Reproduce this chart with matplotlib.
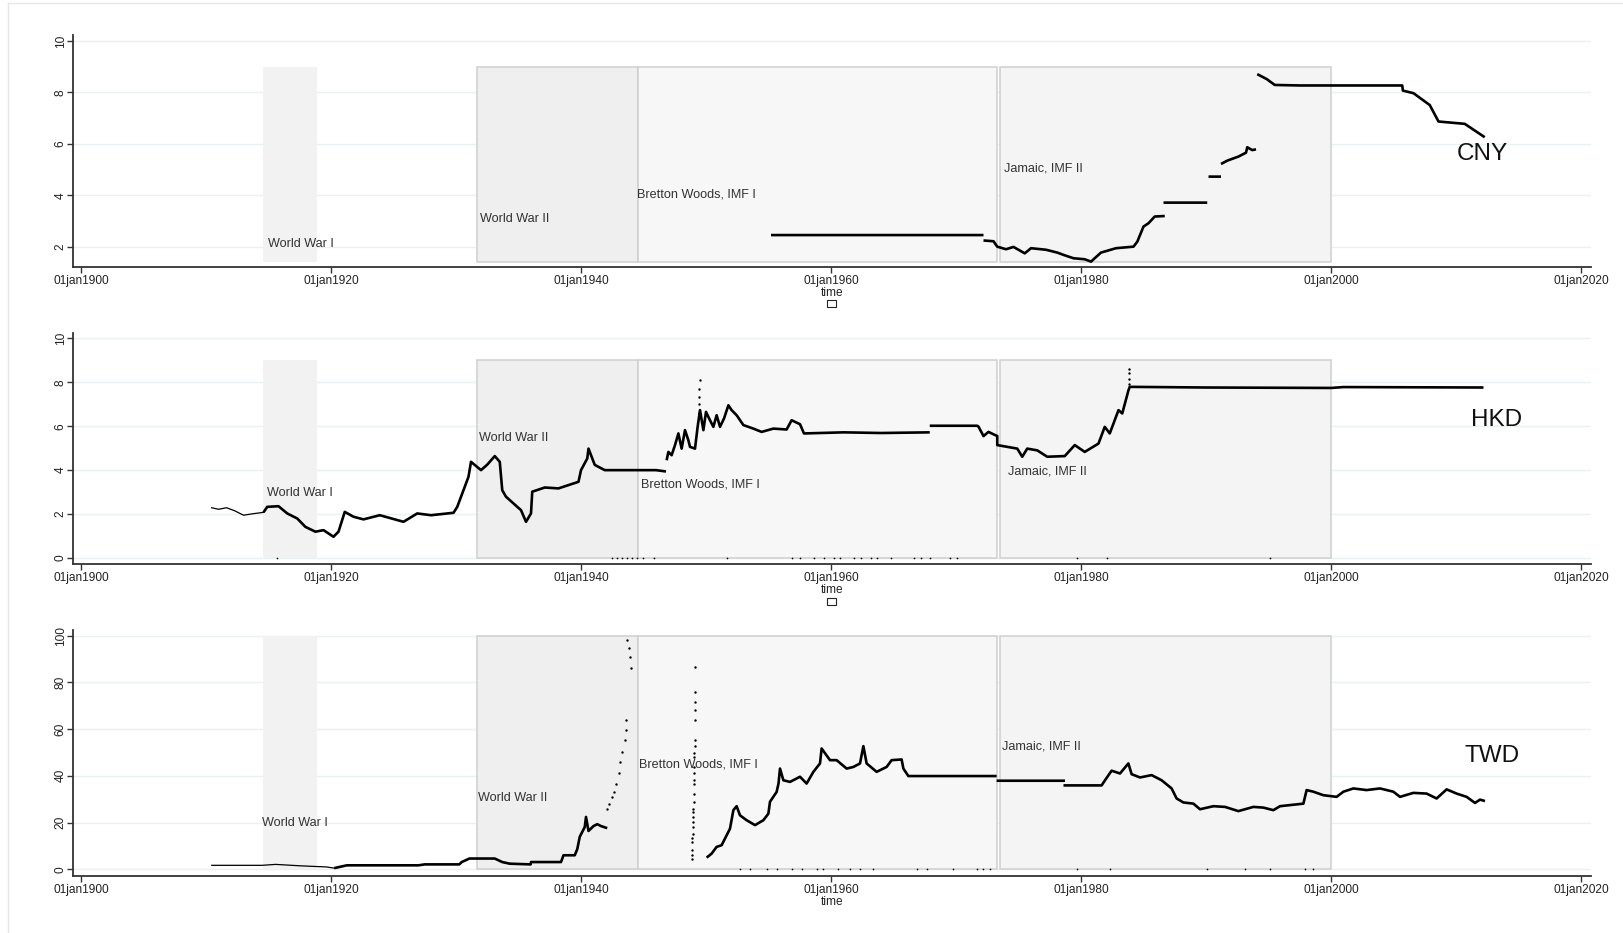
import numpy as np
import matplotlib
matplotlib.use("Agg")
import matplotlib.pyplot as plt
from matplotlib.patches import Rectangle
from matplotlib.lines import Line2D

plt.rcParams["font.family"] = ["Liberation Sans", "DejaVu Sans"]

nan = np.nan

# ---------- monetary regimes (decimal years) ----------
PERIOD_NAMES = ["World War I", "World War II", "Bretton Woods, IMF I", "Jamaic, IMF II"]
PERIOD_START = [1914.58, 1931.65, 1944.55, 1973.50]
PERIOD_END = [1918.85, 1944.55, 1973.25, 2000.00]

# ---------- CNY per USD ----------
CNY_YEAR = [1955.2, 1972.2, nan,
            1972.2, 1973.0, 1973.3, 1974.0, 1974.6, 1975.5, 1976.0, 1977.2, 1978.1,
            1978.6, 1979.4, 1980.3, 1980.8, 1981.6, 1982.8, 1984.2, 1984.5, 1985.0,
            1985.4, 1985.9, 1986.7, nan,
            1986.6, 1990.1, nan,
            1990.2, 1991.2, nan,
            1991.2, 1991.7, 1992.6, 1993.2, 1993.3, 1993.7, 1994.0, nan,
            1994.1, 1994.85, 1995.5, 1997.5, 2005.7, 2005.75, 2006.6, 2007.9, 2008.6,
            2010.7, 2012.3]
CNY_VALUE = [2.46, 2.46, nan,
             2.25, 2.22, 2.01, 1.91, 2.00, 1.75, 1.95, 1.89, 1.78,
             1.69, 1.56, 1.52, 1.43, 1.78, 1.95, 2.01, 2.20, 2.79,
             2.92, 3.18, 3.20, nan,
             3.72, 3.72, nan,
             4.73, 4.73, nan,
             5.22, 5.35, 5.51, 5.66, 5.87, 5.76, 5.79, nan,
             8.71, 8.52, 8.29, 8.27, 8.27, 8.07, 7.97, 7.51, 6.87,
             6.78, 6.26]

# ---------- HKD per USD ----------
HKD_EARLY_YEAR = [1910.45, 1911.0, 1911.65, 1912.3, 1913.0, 1913.8, 1914.6]
HKD_EARLY_VALUE = [2.29, 2.22, 2.29, 2.15, 1.95, 2.02, 2.08]
HKD_YEAR = [1914.6, 1914.9, 1915.8, 1916.5, 1917.3, 1917.95, 1918.75, 1919.4, 1920.2,
            1920.6, 1921.1, 1921.8, 1922.6, 1923.9, 1925.8, 1926.9, 1928.0, 1929.8,
            1930.1, 1930.6, 1931.0, 1931.2, 1932.0, 1932.5, 1933.1, 1933.5, 1933.7,
            1934.0, 1935.2, 1935.6, 1936.0, 1936.1, 1937.1, 1938.2, 1939.8, 1940.0,
            1940.5, 1940.6, 1941.1, 1941.9, 1946.0, 1946.8, nan,
            1946.85, 1946.99, 1947.25, 1947.52, 1947.79, 1948.05, 1948.32, 1948.59,
            1948.72, 1949.12, 1949.33, 1949.52, 1949.79, 1950.0, 1950.32,
            1950.59, 1950.85, 1951.12, 1951.44, 1951.79, 1952.05, 1952.45, 1952.99,
            1953.79, 1954.45, 1955.39, 1956.45, 1956.85, 1957.52, 1957.84, 1961.0,
            1964.0, 1967.9, nan,
            1967.9, 1971.7, 1971.8, 1972.2, 1972.6, 1973.3, 1973.3, 1974.9, 1975.3,
            1975.7, 1976.5, 1977.3, 1978.7, 1979.5, 1980.3, 1981.4, 1981.9, 1982.3,
            1983.0, 1983.3, 1983.8, 1983.9, 1990.0, 2000.0, 2001.0, 2012.2]
HKD_VALUE = [2.08, 2.33, 2.36, 2.03, 1.80, 1.42, 1.20, 1.27, 0.97,
             1.20, 2.10, 1.88, 1.76, 1.95, 1.65, 2.03, 1.95, 2.06,
             2.33, 3.09, 3.70, 4.38, 4.00, 4.25, 4.64, 4.38, 3.09,
             2.79, 2.18, 1.65, 2.03, 3.02, 3.21, 3.17, 3.47, 4.00,
             4.53, 4.98, 4.24, 4.00, 4.00, 3.94, nan,
             4.45, 4.83, 4.68, 5.14, 5.67, 4.98, 5.82, 5.36,
             5.06, 4.98, 5.97, 6.73, 5.82, 6.65, 6.27,
             5.97, 6.50, 5.97, 6.35, 6.95, 6.73, 6.50, 6.05,
             5.89, 5.74, 5.89, 5.85, 6.27, 6.09, 5.67, 5.72,
             5.69, 5.72, nan,
             6.02, 6.02, 5.98, 5.55, 5.74, 5.55, 5.14, 4.98, 4.61,
             4.98, 4.90, 4.61, 4.64, 5.14, 4.83, 5.21, 5.97, 5.67,
             6.73, 6.58, 7.64, 7.79, 7.76, 7.74, 7.78, 7.76]
# scattered spikes (1949 and 1983)
HKD_DOT_YEAR = [1949.45, 1949.46, 1949.47, 1949.47, 1949.48, 1983.82, 1983.84, 1983.85,
                1983.86]
HKD_DOT_VALUE = [6.6, 7.0, 7.35, 7.7, 8.09, 7.9, 8.15, 8.4, 8.62]
HKD_ZERO_YEAR = [1915.7, 1942.45, 1942.85, 1943.25, 1943.65, 1944.05, 1944.45, 1944.98,
                 1945.8, 1951.65, 1956.85, 1957.5, 1958.6, 1959.4, 1960.2, 1960.7,
                 1961.8, 1962.4, 1963.2, 1963.7, 1964.8, 1966.6, 1967.2, 1967.9,
                 1969.5, 1970.05, 1979.65, 1982.05, 1995.1]

# ---------- TWD per USD ----------
TWD_EARLY_YEAR = [1910.46, 1914.5, 1915.56, 1917.5, 1919.64, 1920.26]
TWD_EARLY_VALUE = [1.7, 1.7, 2.1, 1.5, 1.0, 0.5]
TWD_YEAR = [1920.26, 1921.27, 1927.0, 1927.5, 1930.26, 1930.46, 1931.07, 1933.1, 1933.7,
            1934.3, 1935.97, 1936.0, 1938.4, 1938.6, 1939.5, 1939.7, 1939.9, 1940.3,
            1940.4, 1940.6, 1941.0, 1941.3, 1941.6, 1942.1, nan,
            1950.05, 1950.45, 1950.85, 1951.25, 1951.92, 1952.19, 1952.45, 1952.72,
            1953.25, 1953.92, 1954.59, 1954.99, 1955.12, 1955.65, 1955.8, 1955.92,
            1956.19, 1956.72, 1957.52, 1958.05, 1958.59, 1959.12, 1959.25, 1959.92,
            1960.45, 1961.25, 1961.79, 1962.32, 1962.59, 1962.85, 1963.65, 1964.45,
            1964.85, 1965.65, 1965.79, 1966.19, 1973.25, nan,
            1973.25, 1978.72, nan,
            1978.6, 1981.65, 1981.92, 1982.45, 1983.12, 1983.79, 1984.05, 1984.72,
            1985.65, 1986.45, 1987.25, 1987.65, 1988.19, 1988.99, 1989.52, 1990.59,
            1991.52, 1992.59, 1993.79, 1994.59, 1995.39, 1995.92, 1997.79, 1998.05,
            1998.59, 1999.39, 2000.45, 2000.99, 2001.79, 2002.85, 2003.92, 2004.99,
            2005.52, 2006.59, 2007.65, 2008.45, 2009.25, 2010.05, 2010.85, 2011.52,
            2011.92, 2012.32]
TWD_VALUE = [0.5, 1.7, 1.7, 2.1, 2.1, 3.1, 4.6, 4.6, 3.1,
             2.4, 2.1, 3.1, 3.1, 6.0, 6.0, 8.6, 13.9, 18.1,
             22.4, 16.4, 18.5, 19.3, 18.5, 17.6, nan,
             5.0, 6.7, 9.6, 10.3, 17.4, 25.3, 27.0, 23.1,
             21.0, 18.9, 21.0, 23.8, 28.9, 33.1, 36.7, 43.1,
             38.1, 37.4, 39.6, 36.7, 41.7, 45.3, 51.7, 46.7,
             46.7, 43.1, 43.8, 45.3, 52.7, 45.3, 41.7, 43.8,
             46.7, 47.0, 43.1, 39.9, 39.9, nan,
             37.9, 37.9, nan,
             35.9, 35.9, 38.1, 42.2, 41.0, 45.3, 40.7, 39.3,
             40.3, 38.1, 34.6, 30.3, 28.6, 28.1, 25.7, 27.0,
             26.7, 24.9, 26.7, 26.4, 25.3, 27.0, 28.1, 33.9,
             33.2, 31.7, 31.0, 33.2, 34.6, 33.9, 34.6, 33.2,
             31.0, 32.7, 32.4, 30.3, 34.2, 32.4, 31.0, 28.4,
             29.8, 29.2]
# isolated observations during the wartime / 1949 hyperinflation
TWD_DOT_YEAR = [1942.05, 1942.2, 1942.45, 1942.6, 1942.8, 1943.0, 1943.1, 1943.3, 1943.5,
                1943.6, 1943.6, 1943.7, 1943.8, 1943.95, 1944.0,
                1948.85, 1948.86, 1948.88, 1948.9, 1948.9, 1948.92, 1948.93, 1948.95,
                1948.95, 1948.97, 1948.98, 1949.0, 1949.0, 1949.02, 1949.03, 1949.04,
                1949.05, 1949.06, 1949.07, 1949.08, 1949.08, 1949.09, 1949.1, 1949.1,
                1949.1, 1949.1]
TWD_DOT_VALUE = [26.0, 28.0, 31.0, 33.0, 36.7, 41.0, 46.0, 50.3, 55.3,
                 59.6, 64.0, 98.3, 94.6, 91.0, 86.0,
                 4.6, 6.0, 8.1, 11.7, 13.2, 15.3, 18.1, 20.3,
                 22.4, 24.6, 26.0, 28.9, 32.4, 36.7, 38.1, 41.0,
                 43.8, 48.1, 49.6, 52.7, 55.3, 64.1, 68.1, 71.7,
                 76.0, 86.7]
TWD_ZERO_YEAR = [1952.72, 1953.52, 1954.85, 1955.65, 1956.85, 1957.65, 1958.85, 1959.39,
                 1960.59, 1961.52, 1962.32, 1963.39, 1966.85, 1967.65, 1969.79, 1971.65,
                 1972.19, 1972.72, 1979.65, 1982.32, 1990.05, 1993.12, 1995.12, 1997.92,
                 1998.59]

W, H = 1623, 933
fig = plt.figure(figsize=(W / 100, H / 100), dpi=100)


def px_rect(left, top, right, bottom):
    return [left / W, 1 - bottom / H, (right - left) / W, (bottom - top) / H]


panels = [
    dict(rect=px_rect(73, 35, 1591, 267), ylim=(1.22, 10.23), yticks=[2, 4, 6, 8, 10],
         box=(1.42, 9), label="CNY", label_xy=(2010.1, 5.6),
         text_xy=[(1915.0, 2.1), (1931.9, 3.08), (1944.5, 4.03), (1973.8, 5.06)]),
    dict(rect=px_rect(73, 333, 1591, 564), ylim=(-0.27, 10.24), yticks=[0, 2, 4, 6, 8, 10],
         box=(0, 9), label="HKD", label_xy=(2011.2, 6.3),
         text_xy=[(1914.85, 2.94), (1931.85, 5.44), (1944.8, 3.33), (1974.2, 3.92)]),
    dict(rect=px_rect(73, 630, 1591, 876), ylim=(-2.87, 102.4), yticks=[0, 20, 40, 60, 80, 100],
         box=(0, 100), label="TWD", label_xy=(2010.7, 48.5),
         text_xy=[(1914.5, 19.6), (1931.8, 30.3), (1944.67, 45.0), (1973.7, 52.4)]),
]

box_faces = ["#f2f2f2", "#efefef", "#f7f7f7", "#f4f4f4"]
box_edges = ["none", "#cfcfcf", "#cfcfcf", "#cfcfcf"]

axes = []
for p in panels:
    ax = fig.add_axes(p["rect"])
    axes.append(ax)
    ax.set_xlim(1899.36, 2020.8)
    ax.set_ylim(*p["ylim"])
    ax.set_axisbelow(True)
    ax.grid(axis="y", color="#e9f1f2", linewidth=1.0)
    ax.grid(axis="x", visible=False)

    y0, y1 = p["box"]
    for i in range(len(PERIOD_NAMES)):
        ax.add_patch(Rectangle((PERIOD_START[i], y0), PERIOD_END[i] - PERIOD_START[i], y1 - y0,
                               facecolor=box_faces[i], edgecolor=box_edges[i],
                               linewidth=1.1, zorder=1))
        tx, ty = p["text_xy"][i]
        ax.text(tx, ty, PERIOD_NAMES[i], fontsize=9.1, color="#333333",
                ha="left", va="center", zorder=4)

    lx, ly = p["label_xy"]
    ax.text(lx, ly, p["label"], fontsize=17.5, color="#111111", ha="left", va="center")

    ax.set_xticks([1900, 1920, 1940, 1960, 1980, 2000, 2020])
    ax.set_xticklabels([f"01jan{y}" for y in range(1900, 2021, 20)])
    ax.set_yticks(p["yticks"])
    ax.set_yticklabels([str(v) for v in p["yticks"]], rotation=90, va="center")
    ax.tick_params(axis="x", length=4, width=1, color="#333333", labelsize=8.6,
                   labelcolor="#222222", pad=2)
    ax.tick_params(axis="y", length=4, width=1, color="#333333", labelsize=8.6,
                   labelcolor="#222222", pad=0.5)
    for side in ("top", "right"):
        ax.spines[side].set_visible(False)
    for side in ("left", "bottom"):
        ax.spines[side].set_color("#333333")
        ax.spines[side].set_linewidth(1.3)
    ax.set_xlabel("time", fontsize=8.6, color="#222222", labelpad=0)

ax_cny, ax_hkd, ax_twd = axes
line_kw = dict(color="black", linewidth=1.9, solid_capstyle="butt", zorder=3)
thin_kw = dict(color="black", linewidth=0.9, zorder=3)
dot_kw = dict(color="black", linewidths=0, zorder=3)

ax_cny.plot(CNY_YEAR, CNY_VALUE, **line_kw)

ax_hkd.plot(HKD_EARLY_YEAR, HKD_EARLY_VALUE, **thin_kw)
ax_hkd.plot(HKD_YEAR, HKD_VALUE, **line_kw)
ax_hkd.scatter(HKD_DOT_YEAR, HKD_DOT_VALUE, s=3, **dot_kw)
ax_hkd.scatter(HKD_ZERO_YEAR, np.zeros(len(HKD_ZERO_YEAR)), s=1.5, **dot_kw)

ax_twd.plot(TWD_EARLY_YEAR, TWD_EARLY_VALUE, **thin_kw)
ax_twd.plot(TWD_YEAR, TWD_VALUE, **line_kw)
ax_twd.scatter(TWD_DOT_YEAR, TWD_DOT_VALUE, s=3, **dot_kw)
ax_twd.scatter(TWD_ZERO_YEAR, np.zeros(len(TWD_ZERO_YEAR)), s=1.5, **dot_kw)

# empty legend keys under the first two panels
for cy in (303, 601):
    fig.add_artist(Rectangle((827 / W, 1 - (cy + 3.5) / H), 8.5 / W, 7 / H,
                             transform=fig.transFigure, facecolor="white",
                             edgecolor="#222222", linewidth=0.8))

# light outer frame
fig.add_artist(Line2D([7.5 / W, 1], [1 - 3 / H, 1 - 3 / H], transform=fig.transFigure,
                      color="#e6e6e6", linewidth=1))
fig.add_artist(Line2D([7.5 / W, 7.5 / W], [0, 1 - 3 / H], transform=fig.transFigure,
                      color="#e6e6e6", linewidth=1))

fig.savefig("out.png", dpi=100, facecolor="white")
